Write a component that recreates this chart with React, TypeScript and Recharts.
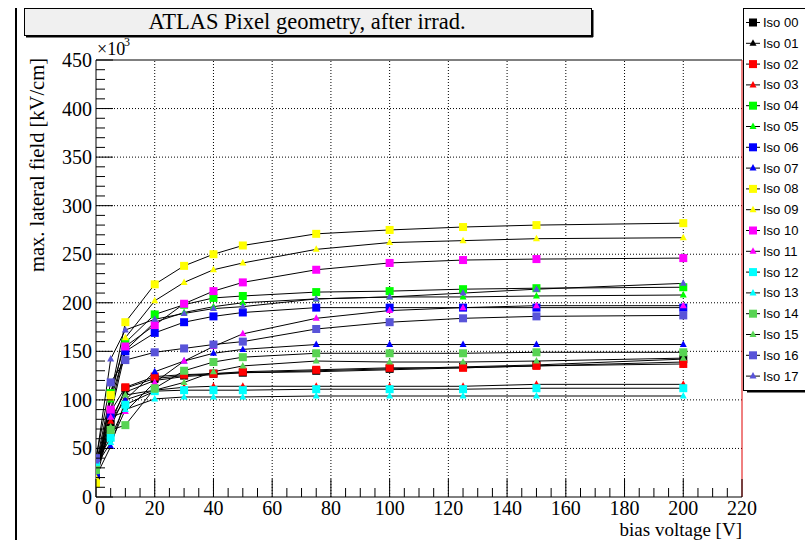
import { LineChart, Line, XAxis, YAxis, ReferenceLine } from "recharts";

// bias voltage [V] and max. lateral field [x10^3 kV/cm], one array per isolation geometry
const biasVoltage = [0, 5, 10, 20, 30, 40, 50, 75, 100, 125, 150, 200];

const iso00 = [18, 75, 112, 122, 125, 127, 128, 130, 132, 134, 136, 142];
const iso01 = [22, 80, 108, 120, 124, 126, 128, 129, 131, 133, 135, 139];
const iso02 = [27, 88, 113, 124, 126, 127, 129, 131, 133, 133, 135, 137];
const iso03 = [24, 78, 100, 110, 113, 114, 114, 114, 114, 114, 116, 116];
const iso04 = [33, 107, 159, 188, 198, 205, 207, 211, 212, 214, 215, 216];
const iso05 = [30, 100, 151, 180, 190, 196, 200, 204, 206, 206, 207, 208];
const iso06 = [25, 85, 150, 169, 180, 186, 190, 195, 195, 195, 195, 195];
const iso07 = [21, 52, 100, 129, 140, 148, 152, 157, 157, 157, 157, 157];
const iso08 = [14, 105, 180, 219, 238, 250, 259, 271, 275, 278, 280, 282];
const iso09 = [20, 102, 164, 202, 221, 234, 241, 255, 262, 264, 266, 267];
const iso10 = [31, 90, 155, 177, 199, 212, 221, 234, 241, 244, 245, 246];
const iso11 = [29, 82, 88, 118, 140, 155, 168, 184, 192, 195, 197, 197];
const iso12 = [35, 61, 95, 109, 110, 110, 110, 111, 111, 111, 112, 112];
const iso13 = [32, 56, 90, 101, 103, 103, 103, 104, 104, 104, 104, 104];
const iso14 = [28, 69, 74, 112, 130, 139, 144, 148, 148, 148, 149, 149];
const iso15 = [26, 72, 105, 110, 118, 129, 135, 140, 139, 139, 140, 143];
const iso16 = [40, 118, 141, 149, 153, 157, 160, 173, 180, 184, 186, 187];
const iso17 = [37, 142, 172, 183, 189, 194, 196, 204, 206, 210, 214, 220];

const seriesNames = [
  "Iso 00", "Iso 01", "Iso 02", "Iso 03", "Iso 04", "Iso 05",
  "Iso 06", "Iso 07", "Iso 08", "Iso 09", "Iso 10", "Iso 11",
  "Iso 12", "Iso 13", "Iso 14", "Iso 15", "Iso 16", "Iso 17",
];
const seriesValues = [
  iso00, iso01, iso02, iso03, iso04, iso05, iso06, iso07, iso08,
  iso09, iso10, iso11, iso12, iso13, iso14, iso15, iso16, iso17,
];
const seriesColors = [
  "#000000", "#000000", "#ff0000", "#ff0000", "#00ff00", "#00ff00",
  "#0000ff", "#0000ff", "#ffff00", "#ffff00", "#ff00ff", "#ff00ff",
  "#00ffff", "#00ffff", "#59d454", "#59d454", "#5954d9", "#5954d9",
];

const xMajorTicks = [0, 20, 40, 60, 80, 100, 120, 140, 160, 180, 200, 220];
const yMajorTicks = [0, 50, 100, 150, 200, 250, 300, 350, 400, 450];

// minor ticks: 5 V on x, 10 on y
const xTicks = xMajorTicks.flatMap((t, i) => (i === 0 ? [t] : [t - 15, t - 10, t - 5, t]));
const yTicks = yMajorTicks.flatMap((t, i) => (i === 0 ? [t] : [t - 40, t - 30, t - 20, t - 10, t]));

const data = biasVoltage.map((v, i) => {
  const row: Record<string, number> = { v };
  seriesValues.forEach((vals, s) => {
    row["s" + s] = vals[i];
  });
  return row;
});

const SERIF = "'Liberation Serif', 'Times New Roman', serif";
const SANS = "'Liberation Sans', Arial, sans-serif";

function Marker({ cx, cy, color, square }: any) {
  if (square) {
    return <rect x={cx - 4} y={cy - 4} width={8} height={8} fill={color} />;
  }
  return (
    <polygon
      points={`${cx},${cy - 4} ${cx + 3.5},${cy + 2.5} ${cx - 3.5},${cy + 2.5}`}
      fill={color}
    />
  );
}

const makeDot = (color: string, square: boolean) => (props: any) => {
  const { cx, cy, index } = props;
  if (cx == null || cy == null) return <g key={index} />;
  return (
    <g key={index}>
      <Marker cx={cx} cy={cy} color={color} square={square} />
    </g>
  );
};

function XTick({ x, y, payload }: any) {
  const major = payload.value % 20 === 0;
  return (
    <g>
      <line x1={x} y1={y} x2={x} y2={y - (major ? 18 : 9)} stroke="#000" />
      {major && (
        <text
          x={x + (payload.value === 0 ? 4 : 0)}
          y={y + 17.5}
          textAnchor="middle"
          fontFamily={SERIF}
          fontSize={20}
          fill="#000"
        >
          {payload.value}
        </text>
      )}
    </g>
  );
}

function YTick({ x, y, payload }: any) {
  const major = payload.value % 50 === 0;
  return (
    <g>
      <line x1={x} y1={y} x2={x + (major ? 17 : 9)} y2={y} stroke="#000" />
      {major && (
        <text
          x={x - 4}
          y={y + 7}
          textAnchor="end"
          fontFamily={SERIF}
          fontSize={20}
          fill="#000"
        >
          {payload.value}
        </text>
      )}
    </g>
  );
}

export default function App() {
  return (
    <div
      style={{
        position: "absolute",
        left: 0,
        top: 0,
        width: 805,
        height: 540,
        background: "#fff",
        overflow: "hidden",
      }}
    >
      <LineChart
        width={805}
        height={540}
        data={data}
        margin={{ top: 60, right: 63, bottom: 0, left: 56 }}
      >
        {xMajorTicks.slice(1, -1).map((t) => (
          <ReferenceLine key={"gx" + t} x={t} stroke="#000" strokeWidth={1} strokeDasharray="1 2" />
        ))}
        {yMajorTicks.slice(1, -1).map((t) => (
          <ReferenceLine key={"gy" + t} y={t} stroke="#000" strokeWidth={1} strokeDasharray="1 2" />
        ))}
        <ReferenceLine y={450} stroke="#000" strokeWidth={1} />
        <ReferenceLine x={220} stroke="#e00000" strokeWidth={1} />
        <XAxis
          type="number"
          dataKey="v"
          domain={[0, 220]}
          ticks={xTicks}
          interval={0}
          tickSize={0}
          tickMargin={0}
          tick={XTick}
          height={43}
          axisLine={{ stroke: "#000" }}
          allowDataOverflow
        />
        <YAxis
          type="number"
          domain={[0, 450]}
          ticks={yTicks}
          interval={0}
          tickSize={0}
          tickMargin={0}
          tick={YTick}
          width={40}
          axisLine={{ stroke: "#000" }}
          allowDataOverflow
        />
        {seriesNames.map((name, s) => (
          <Line
            key={name}
            name={name}
            dataKey={"s" + s}
            type="linear"
            stroke="#000"
            strokeWidth={1}
            dot={makeDot(seriesColors[s], s % 2 === 0)}
            activeDot={false}
            isAnimationActive={false}
          />
        ))}
      </LineChart>

      <svg
        width={805}
        height={540}
        style={{ position: "absolute", left: 0, top: 0, pointerEvents: "none" }}
      >
        {/* canvas frame */}
        <line x1={16} y1={8} x2={16} y2={540} stroke="#000" strokeWidth={2} />

        {/* title box */}
        <rect x={24.5} y={8.5} width={567} height={27} fill="#f0f0f0" stroke="#000" />
        <line x1={26} y1={36.5} x2={593} y2={36.5} stroke="#000" strokeWidth={2} />
        <line x1={592.5} y1={10} x2={592.5} y2={37} stroke="#000" strokeWidth={2} />
        <text x={307} y={29} textAnchor="middle" fontFamily={SERIF} fontSize={22.5} fill="#000">
          ATLAS Pixel geometry, after irrad.
        </text>

        {/* axis titles */}
        <text x={97} y={55} fontFamily={SERIF} fontSize={18} fill="#000">
          ×10
        </text>
        <text x={124} y={46} fontFamily={SERIF} fontSize={12} fill="#000">
          3
        </text>
        <text
          x={44}
          y={58}
          transform="rotate(-90, 44, 58)"
          textAnchor="end"
          fontFamily={SERIF}
          fontSize={20.5}
          fill="#000"
        >
          max. lateral field [kV/cm]
        </text>
        <text x={742} y={536} textAnchor="end" fontFamily={SERIF} fontSize={19} fill="#000">
          bias voltage [V]
        </text>

        {/* legend */}
        <rect x={743.5} y={8.5} width={70} height={382} fill="#fff" stroke="#000" />
        <line x1={747} y1={391.5} x2={805} y2={391.5} stroke="#000" strokeWidth={2} />
        {seriesNames.map((name, s) => {
          const cy = 22.5 + 20.8 * s;
          return (
            <g key={name}>
              <line x1={746} y1={cy} x2={760} y2={cy} stroke="#000" />
              <Marker cx={753} cy={cy} color={seriesColors[s]} square={s % 2 === 0} />
              <text x={763} y={cy + 4.5} fontFamily={SANS} fontSize={13} fill="#000">
                {name}
              </text>
            </g>
          );
        })}
      </svg>
    </div>
  );
}
